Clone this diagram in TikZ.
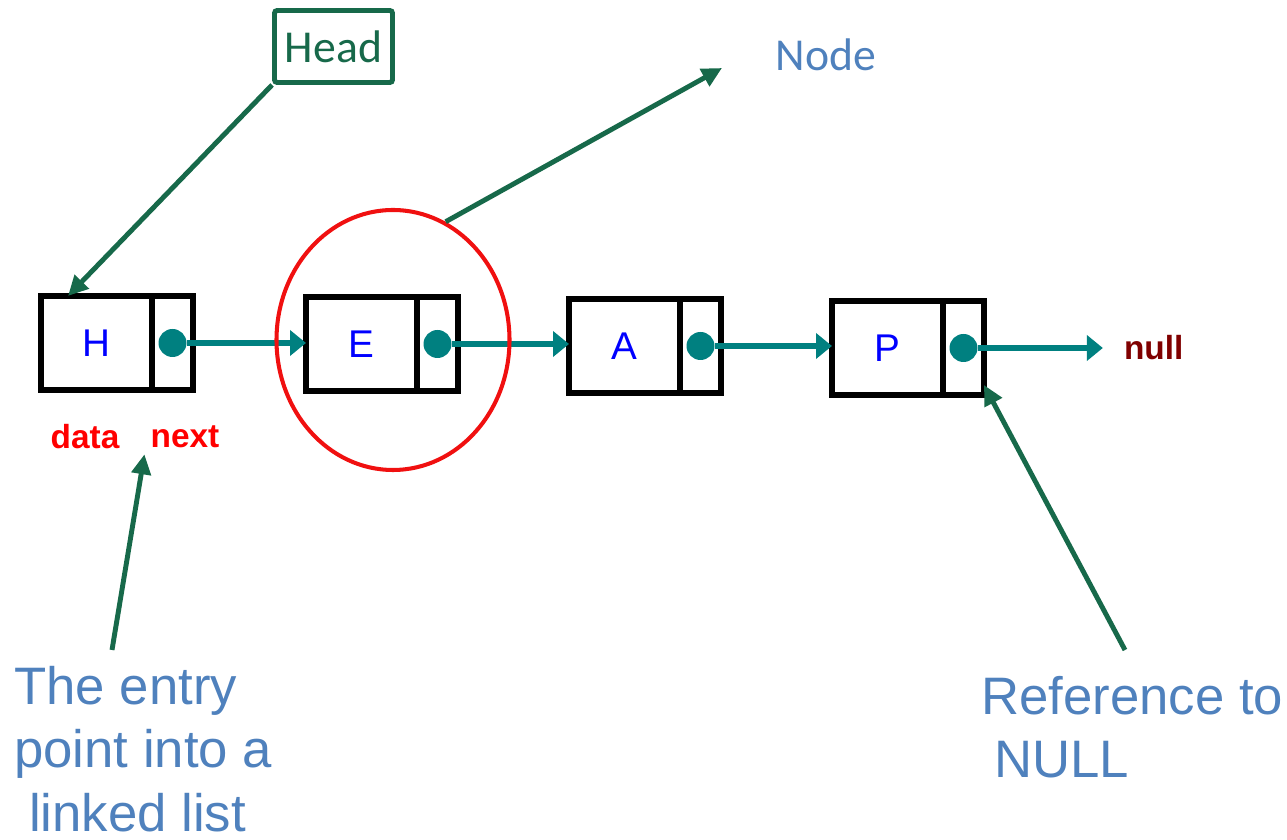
\documentclass[tikz,border=0pt]{standalone}
\usepackage{fontspec}
\setmainfont{Liberation Sans}
\newfontfamily\calfont{Carlito}
\usepackage{xcolor}
\usetikzlibrary{calc,positioning,shapes.geometric,arrows.meta}
\definecolor{linkcol}{HTML}{008080}
\definecolor{pointcol}{HTML}{17694A}
\definecolor{notecol}{HTML}{4F81BD}
\definecolor{fieldcol}{HTML}{FF0000}
\definecolor{nullcol}{HTML}{800000}
\definecolor{ringcol}{HTML}{F01010}
\definecolor{letcol}{HTML}{0000FF}

\begin{document}
\begin{tikzpicture}[x=1cm, y=1cm,
      databox/.style={draw=black, line width=3.4pt, inner sep=0pt, outer sep=0pt,
                      minimum width=2.22cm, minimum height=1.88cm,
                      font=\fontsize{22}{24}\selectfont, text=letcol},
      nextbox/.style={draw=black, line width=3.4pt, inner sep=0pt, outer sep=0pt,
                      minimum width=0.82cm, minimum height=1.88cm},
      dot/.style={circle, fill=linkcol, inner sep=0pt, minimum size=0.56cm},
      link/.style={-{Triangle[length=0.32cm, width=0.5cm]}, line width=3.6pt, color=linkcol},
      pointer/.style={-{Triangle[length=0.4cm, width=0.38cm]}, line width=2.8pt, color=pointcol},
      fieldlbl/.style={font=\fontsize{19}{21}\selectfont\bfseries, text=fieldcol},
      note/.style={font=\fontsize{30}{36}\selectfont, text=notecol, align=left,
                   inner sep=0pt}]

    \useasboundingbox (0,0) rectangle (25.74,16.8);

    % list cells
    \foreach \nm/\x/\y in {H/1.93/9.94, E/7.23/9.92, A/12.49/9.88, P/17.75/9.84}
    {
      \node[databox] (d\nm) at (\x,\y) {\nm};
      \node[nextbox, right=0pt of d\nm] (n\nm) {};
      \node[dot] (c\nm) at (n\nm.center) {};
    }
    \foreach \a/\b in {H/E, E/A, A/P}
      \draw[link] (c\a) -- (c\a -| d\b.west);

    \coordinate[right=2.5cm of cP] (nullend);
    \draw[link] (cP) -- (nullend);
    \node[fieldlbl, text=nullcol, right=0.3cm of nullend] (nl) {null};

    \node[fieldlbl] (dl) at (1.7,8.06) {data};
    \node[fieldlbl] (nx) at (3.7,8.06) {next};

    % highlighted node
    \node[ellipse, draw=ringcol, line width=2.3pt, inner sep=0pt,
          minimum width=4.66cm, minimum height=5.2cm] (ring) at (7.86,10.0) {};

    % callouts
    \node[draw=pointcol, line width=2.8pt, rounded corners=1.5pt, text=pointcol,
          font=\calfont\fontsize{26}{28}\selectfont,
          minimum width=2.36cm, minimum height=1.44cm] (hd) at (6.67,15.87) {Head};
    \node[font=\calfont\fontsize{26}{28}\selectfont, text=notecol] (nd) at (16.52,15.7) {Node};
    \coordinate (nodetip) at (14.44,15.44);
    \coordinate (entrytail) at (2.24,3.8);
    \coordinate (reftail) at (22.5,3.8);

    \draw[pointer] (hd.south west) -- ([xshift=0.54cm]dH.north west);
    \draw[pointer] (ring.66) -- (nodetip);
    \draw[pointer] (entrytail) -- (nx.south west);
    \draw[pointer] (reftail) -- ([yshift=0.2cm]nP.south east);

    \node[note, anchor=north west] (entry) at (0.28,3.48)
      {The entry\\point into a\\\hspace*{0.28em}linked list};
    \node[note, anchor=north west] (ref) at (19.62,3.28)
      {Reference to\\\hspace*{0.25em}NULL};
  \end{tikzpicture}
\end{document}
